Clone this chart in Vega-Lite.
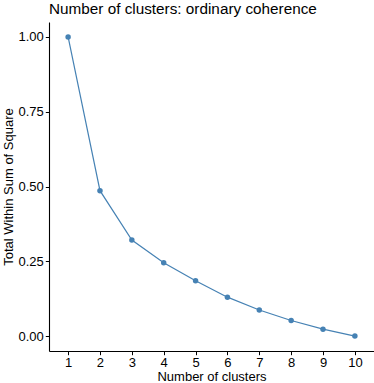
{
  "$schema": "https://vega.github.io/schema/vega-lite/v6.json",
  "width": 325,
  "height": 329,
  "autosize": {"type": "none"},
  "padding": {"left": 49, "top": 22, "right": 0, "bottom": 32},
  "background": "white",
  "title": {
    "text": "Number of clusters: ordinary coherence",
    "anchor": "start",
    "frame": "group",
    "font": "Liberation Sans",
    "fontSize": 15.3,
    "fontWeight": "normal",
    "color": "black",
    "offset": 5
  },
  "data": {
    "values": [
      {"k": 1, "wss": 1.0},
      {"k": 2, "wss": 0.486},
      {"k": 3, "wss": 0.321},
      {"k": 4, "wss": 0.245},
      {"k": 5, "wss": 0.185},
      {"k": 6, "wss": 0.130},
      {"k": 7, "wss": 0.087},
      {"k": 8, "wss": 0.052},
      {"k": 9, "wss": 0.023},
      {"k": 10, "wss": 0.0}
    ]
  },
  "config": {
    "view": {"stroke": null},
    "axis": {
      "grid": false,
      "domainColor": "black",
      "domainWidth": 1.1,
      "tickColor": "black",
      "tickSize": 3.7,
      "tickWidth": 1,
      "labelFont": "Liberation Sans",
      "labelFontSize": 13,
      "labelColor": "black",
      "labelPadding": 2,
      "titleFont": "Liberation Sans",
      "titleFontSize": 13,
      "titleFontWeight": "normal",
      "titleColor": "black"
    }
  },
  "encoding": {
    "x": {
      "field": "k",
      "type": "quantitative",
      "title": "Number of clusters",
      "scale": {"domain": [0.4, 10.6], "nice": false, "zero": false},
      "axis": {"values": [1,2,3,4,5,6,7,8,9,10], "format": "d", "titlePadding": 1}
    },
    "y": {
      "field": "wss",
      "type": "quantitative",
      "title": "Total Within Sum of Square",
      "scale": {"domain": [-0.05, 1.05], "nice": false, "zero": false},
      "axis": {"values": [0, 0.25, 0.5, 0.75, 1.0], "format": ".2f", "titlePadding": 2}
    }
  },
  "layer": [
    {"mark": {"type": "line", "color": "#4682B4", "strokeWidth": 1.2}},
    {"mark": {"type": "point", "filled": true, "color": "#4682B4", "opacity": 1, "size": 30}}
  ]
}
